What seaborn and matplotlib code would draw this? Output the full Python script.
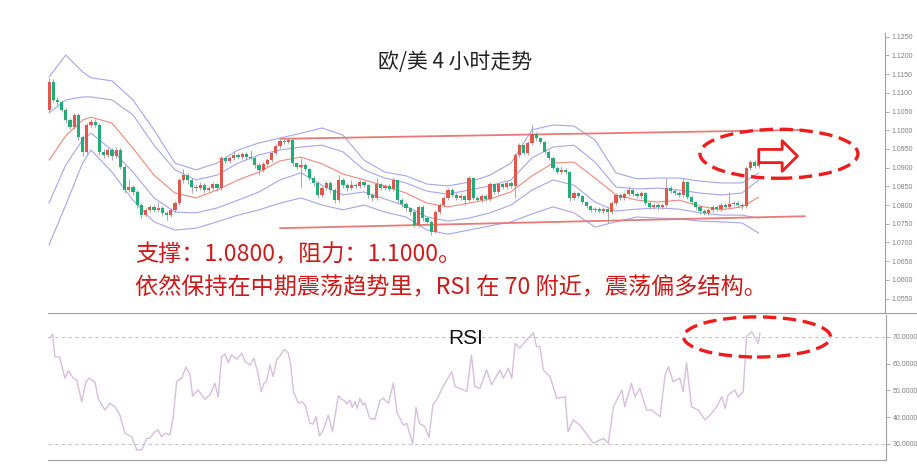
import matplotlib
matplotlib.use("Agg")
import matplotlib.pyplot as plt
from matplotlib.patches import Ellipse
from matplotlib.lines import Line2D
import seaborn as sns

# EUR/USD 4h candles (bar number = position on the time axis)
opens = [1.1054, 1.1129, 1.1081, 1.1075, 1.1054, 1.1027, 1.1009, 1.1040, 1.0982, 1.0942,
         1.1014, 1.1022, 1.1014, 1.0942, 1.0934, 1.0947, 1.0931, 1.0947, 1.0901, 1.0840,
         1.0848, 1.0835, 1.0800, 1.0773, 1.0787, 1.0795, 1.0787, 1.0792, 1.0779, 1.0773,
         1.0787, 1.0805, 1.0867, 1.0880, 1.0867, 1.0848, 1.0845, 1.0853, 1.0840, 1.0845,
         1.0856, 1.0845, 1.0926, 1.0918, 1.0926, 1.0934, 1.0928, 1.0936, 1.0928, 1.0926,
         1.0907, 1.0893, 1.0909, 1.0920, 1.0939, 1.0957, 1.0971, 1.0968, 1.0974, 1.0912,
         1.0901, 1.0907, 1.0896, 1.0872, 1.0859, 1.0827, 1.0845, 1.0859, 1.0840, 1.0813,
         1.0867, 1.0853, 1.0845, 1.0853, 1.0851, 1.0861, 1.0853, 1.0827, 1.0819, 1.0856,
         1.0845, 1.0851, 1.0843, 1.0867, 1.0813, 1.0803, 1.0792, 1.0781, 1.0747, 1.0795,
         1.0765, 1.0755, 1.0728, 1.0781, 1.0800, 1.0819, 1.0840, 1.0827, 1.0819, 1.0824,
         1.0813, 1.0872, 1.0819, 1.0813, 1.0824, 1.0816, 1.0856, 1.0835, 1.0856, 1.0848,
         1.0859, 1.0851, 1.0934, 1.0960, 1.0939, 1.0965, 1.0989, 1.0979, 1.0968, 1.0942,
         1.0926, 1.0899, 1.0888, 1.0893, 1.0888, 1.0819, 1.0832, 1.0824, 1.0808, 1.0797,
         1.0787, 1.0789, 1.0784, 1.0789, 1.0781, 1.0805, 1.0827, 1.0819, 1.0829, 1.0840,
         1.0829, 1.0824, 1.0832, 1.0805, 1.0795, 1.0800, 1.0795, 1.0800, 1.0845, 1.0837,
         1.0832, 1.0827, 1.0861, 1.0821, 1.0808, 1.0795, 1.0784, 1.0779, 1.0787, 1.0795,
         1.0789, 1.0800, 1.0795, 1.0803, 1.0805, 1.0800, 1.0797, 1.0899, 1.0915, 1.0904]
highs = [1.1140, 1.1138, 1.1090, 1.1080, 1.1060, 1.1033, 1.1046, 1.1045, 1.0988, 1.1020,
         1.1030, 1.1030, 1.1018, 1.0950, 1.0953, 1.0952, 1.0955, 1.0952, 1.0906, 1.0870,
         1.0853, 1.0840, 1.0805, 1.0793, 1.0801, 1.0800, 1.0808, 1.0797, 1.0785, 1.0792,
         1.0810, 1.0873, 1.0895, 1.0886, 1.0872, 1.0855, 1.0862, 1.0858, 1.0850, 1.0861,
         1.0860, 1.0932, 1.0932, 1.0932, 1.0945, 1.0940, 1.0942, 1.0941, 1.0948, 1.0930,
         1.0912, 1.0914, 1.0926, 1.0944, 1.0962, 1.0977, 1.0978, 1.0979, 1.0978, 1.0916,
         1.0925, 1.0912, 1.0900, 1.0878, 1.0863, 1.0852, 1.0865, 1.0863, 1.0845, 1.0880,
         1.0872, 1.0858, 1.0866, 1.0858, 1.0866, 1.0865, 1.0857, 1.0832, 1.0872, 1.0860,
         1.0856, 1.0855, 1.0872, 1.0870, 1.0818, 1.0808, 1.0796, 1.0786, 1.0800, 1.0799,
         1.0770, 1.0760, 1.0786, 1.0805, 1.0824, 1.0846, 1.0845, 1.0832, 1.0829, 1.0828,
         1.0877, 1.0876, 1.0824, 1.0829, 1.0830, 1.0861, 1.0860, 1.0861, 1.0860, 1.0864,
         1.0863, 1.0940, 1.0966, 1.0964, 1.0970, 1.1014, 1.0996, 1.0983, 1.0972, 1.0946,
         1.0930, 1.0904, 1.0905, 1.0900, 1.0892, 1.0838, 1.0836, 1.0828, 1.0812, 1.0801,
         1.0795, 1.0794, 1.0795, 1.0793, 1.0810, 1.0832, 1.0831, 1.0834, 1.0850, 1.0844,
         1.0834, 1.0838, 1.0836, 1.0810, 1.0806, 1.0805, 1.0806, 1.0872, 1.0850, 1.0842,
         1.0837, 1.0872, 1.0865, 1.0826, 1.0812, 1.0800, 1.0789, 1.0792, 1.0800, 1.0800,
         1.0806, 1.0806, 1.0835, 1.0811, 1.0810, 1.0806, 1.0904, 1.0921, 1.0920, 1.0918]
lows = [1.1050, 1.1075, 1.1068, 1.1048, 1.1020, 1.1002, 1.1004, 1.0975, 1.0930, 1.0936,
        1.1008, 1.1008, 1.0935, 1.0926, 1.0928, 1.0920, 1.0926, 1.0895, 1.0832, 1.0834,
        1.0828, 1.0792, 1.0766, 1.0768, 1.0780, 1.0781, 1.0782, 1.0770, 1.0760, 1.0768,
        1.0782, 1.0800, 1.0860, 1.0855, 1.0832, 1.0838, 1.0840, 1.0833, 1.0835, 1.0840,
        1.0838, 1.0840, 1.0912, 1.0912, 1.0920, 1.0922, 1.0924, 1.0923, 1.0920, 1.0900,
        1.0880, 1.0888, 1.0904, 1.0915, 1.0934, 1.0952, 1.0962, 1.0963, 1.0905, 1.0895,
        1.0845, 1.0890, 1.0866, 1.0850, 1.0818, 1.0822, 1.0840, 1.0832, 1.0805, 1.0808,
        1.0846, 1.0838, 1.0840, 1.0845, 1.0846, 1.0847, 1.0820, 1.0812, 1.0814, 1.0839,
        1.0840, 1.0837, 1.0838, 1.0806, 1.0796, 1.0785, 1.0774, 1.0740, 1.0742, 1.0758,
        1.0748, 1.0720, 1.0724, 1.0776, 1.0795, 1.0814, 1.0821, 1.0813, 1.0814, 1.0800,
        1.0808, 1.0813, 1.0807, 1.0808, 1.0810, 1.0811, 1.0829, 1.0830, 1.0842, 1.0843,
        1.0845, 1.0819, 1.0928, 1.0933, 1.0934, 1.0960, 1.0972, 1.0962, 1.0936, 1.0920,
        1.0893, 1.0882, 1.0883, 1.0882, 1.0812, 1.0814, 1.0818, 1.0802, 1.0791, 1.0781,
        1.0782, 1.0778, 1.0779, 1.0752, 1.0776, 1.0800, 1.0813, 1.0814, 1.0824, 1.0823,
        1.0818, 1.0819, 1.0799, 1.0789, 1.0790, 1.0786, 1.0790, 1.0795, 1.0831, 1.0826,
        1.0821, 1.0822, 1.0815, 1.0802, 1.0789, 1.0777, 1.0773, 1.0774, 1.0782, 1.0783,
        1.0784, 1.0789, 1.0790, 1.0798, 1.0794, 1.0790, 1.0792, 1.0894, 1.0898, 1.0899]
closes = [1.1129, 1.1081, 1.1075, 1.1054, 1.1027, 1.1009, 1.1040, 1.0982, 1.0942, 1.1014,
          1.1022, 1.1014, 1.0942, 1.0934, 1.0947, 1.0931, 1.0947, 1.0901, 1.0840, 1.0848,
          1.0835, 1.0800, 1.0773, 1.0787, 1.0795, 1.0787, 1.0792, 1.0779, 1.0773, 1.0787,
          1.0805, 1.0867, 1.0880, 1.0867, 1.0848, 1.0845, 1.0853, 1.0840, 1.0845, 1.0856,
          1.0845, 1.0926, 1.0918, 1.0926, 1.0934, 1.0928, 1.0936, 1.0928, 1.0926, 1.0907,
          1.0893, 1.0909, 1.0920, 1.0939, 1.0957, 1.0971, 1.0968, 1.0974, 1.0912, 1.0901,
          1.0907, 1.0896, 1.0872, 1.0859, 1.0827, 1.0845, 1.0859, 1.0840, 1.0813, 1.0867,
          1.0853, 1.0845, 1.0853, 1.0851, 1.0861, 1.0853, 1.0827, 1.0819, 1.0856, 1.0845,
          1.0851, 1.0843, 1.0867, 1.0813, 1.0803, 1.0792, 1.0781, 1.0747, 1.0795, 1.0765,
          1.0755, 1.0728, 1.0781, 1.0800, 1.0819, 1.0840, 1.0827, 1.0819, 1.0824, 1.0813,
          1.0872, 1.0819, 1.0813, 1.0824, 1.0816, 1.0856, 1.0835, 1.0856, 1.0848, 1.0859,
          1.0851, 1.0934, 1.0960, 1.0939, 1.0965, 1.0989, 1.0979, 1.0968, 1.0942, 1.0926,
          1.0899, 1.0888, 1.0893, 1.0888, 1.0819, 1.0832, 1.0824, 1.0808, 1.0797, 1.0787,
          1.0789, 1.0784, 1.0789, 1.0781, 1.0805, 1.0827, 1.0819, 1.0829, 1.0840, 1.0829,
          1.0824, 1.0832, 1.0805, 1.0795, 1.0800, 1.0795, 1.0800, 1.0845, 1.0837, 1.0832,
          1.0827, 1.0861, 1.0821, 1.0808, 1.0795, 1.0784, 1.0779, 1.0787, 1.0795, 1.0789,
          1.0800, 1.0795, 1.0803, 1.0805, 1.0800, 1.0797, 1.0899, 1.0915, 1.0904, 1.0912]

# Bollinger bands at these bars
band_bar = [0, 4, 8, 10, 15, 20, 25, 30, 35, 40, 45, 50, 55, 60, 65, 70, 75, 80,
            85, 90, 95, 100, 105, 110, 115, 120, 125, 130, 135, 140, 145, 150, 155, 160, 165, 169]
ub2 = [1.1142, 1.1201, 1.1156, 1.1140, 1.1132, 1.1081, 1.1001, 1.0912, 1.0894, 1.0912, 1.0947, 1.0966,
       1.0979, 1.0992, 1.1006, 1.0987, 1.0920, 1.0888, 1.0878, 1.0856, 1.0851, 1.0861, 1.0880, 1.0912,
       1.1001, 1.1014, 1.1011, 1.0974, 1.0886, 1.0870, 1.0872, 1.0872, 1.0864, 1.0859, 1.0859, 1.0886]
ub1 = [1.1046, 1.1081, 1.1089, 1.1089, 1.1081, 1.1041, 1.0960, 1.0894, 1.0867, 1.0880, 1.0912, 1.0934,
       1.0947, 1.0955, 1.0960, 1.0942, 1.0894, 1.0872, 1.0859, 1.0837, 1.0829, 1.0840, 1.0851, 1.0867,
       1.0926, 1.0955, 1.0960, 1.0915, 1.0848, 1.0843, 1.0845, 1.0840, 1.0832, 1.0827, 1.0832, 1.0867]
mid = [1.0920, 1.0985, 1.1027, 1.1035, 1.1019, 1.0952, 1.0880, 1.0832, 1.0819, 1.0840, 1.0867, 1.0888,
       1.0918, 1.0928, 1.0910, 1.0883, 1.0867, 1.0851, 1.0832, 1.0805, 1.0795, 1.0805, 1.0816, 1.0835,
       1.0878, 1.0912, 1.0915, 1.0872, 1.0827, 1.0813, 1.0808, 1.0813, 1.0797, 1.0787, 1.0795, 1.0821]
lb1 = [1.0805, 1.0907, 1.0974, 1.0992, 1.0947, 1.0888, 1.0819, 1.0781, 1.0779, 1.0792, 1.0813, 1.0835,
       1.0867, 1.0886, 1.0853, 1.0827, 1.0835, 1.0816, 1.0797, 1.0768, 1.0757, 1.0765, 1.0779, 1.0800,
       1.0840, 1.0867, 1.0853, 1.0808, 1.0784, 1.0789, 1.0792, 1.0789, 1.0779, 1.0773, 1.0773, 1.0765]
lb2 = [1.0693, 1.0800, 1.0912, 1.0947, 1.0888, 1.0813, 1.0755, 1.0733, 1.0738, 1.0755, 1.0773, 1.0787,
       1.0805, 1.0819, 1.0800, 1.0787, 1.0800, 1.0781, 1.0768, 1.0733, 1.0722, 1.0733, 1.0744, 1.0755,
       1.0776, 1.0795, 1.0779, 1.0741, 1.0755, 1.0768, 1.0765, 1.0763, 1.0757, 1.0755, 1.0752, 1.0725]

# channel lines
trend_bar = [55, 180]
resist_line = [1.0977, 1.1001]
support_line = [1.0738, 1.0770]

price_ticks = [1.0550, 1.0600, 1.0650, 1.0700, 1.0750, 1.0800, 1.0850, 1.0900,
               1.0950, 1.1000, 1.1050, 1.1100, 1.1150, 1.1200, 1.1250]

# RSI
rsi_bar = [0.1, 0.9, 1.4, 2.5, 3.8, 4.6, 5.8, 6.6, 7.8, 8.8,
           9.6, 11.0, 11.7, 13.3, 14.5, 15.7, 16.9, 18.1, 19.7, 20.9,
           22.1, 23.3, 24.0, 25.2, 26.0, 26.8, 27.6, 28.8, 29.6, 30.4,
           31.6, 32.6, 33.6, 34.2, 35.5, 37.1, 38.3, 39.5, 40.3, 41.1,
           41.9, 42.7, 43.5, 44.7, 45.9, 46.7, 47.9, 48.8, 49.8, 50.5,
           51.2, 51.8, 52.6, 53.4, 54.2, 55.0, 56.0, 57.0, 57.5, 58.2,
           59.4, 60.2, 61.0, 62.1, 62.9, 63.6, 64.4, 65.3, 66.5, 67.5,
           68.9, 69.7, 70.3, 70.9, 71.7, 72.2, 72.9, 73.4, 74.0, 74.7,
           75.2, 76.4, 77.6, 78.8, 79.6, 80.8, 82.0, 82.9, 84.4, 85.2,
           86.6, 87.4, 88.2, 89.5, 90.5, 91.4, 92.3, 94.0, 95.9, 96.7,
           97.9, 99.5, 100.6, 101.4, 102.6, 104.2, 105.4, 107.4, 108.2, 109.4,
           110.2, 111.0, 112.1, 113.3, 115.3, 116.1, 116.9, 117.7, 119.3, 120.9,
           122.9, 123.6, 124.8, 126.4, 129.6, 132.0, 133.2, 134.4, 136.4, 137.1,
           138.7, 139.5, 140.7, 142.3, 143.5, 145.5, 146.7, 147.5, 148.6, 150.2,
           151.0, 151.8, 153.0, 154.6, 156.2, 157.4, 159.0, 160.2, 161.0, 161.7,
           163.3, 164.1, 165.3, 166.1, 167.3, 168.9, 169.3]
rsi_val = [69.5, 71.1, 62.6, 62.6, 54.6, 57.4, 54.6, 53.9, 45.8, 53.3,
           54.6, 52.9, 47.1, 42.7, 45.2, 43.9, 40.8, 34.0, 32.7, 27.8,
           27.8, 32.1, 32.1, 34.6, 35.2, 32.7, 34.0, 33.4, 40.2, 53.3,
           54.6, 58.7, 55.8, 47.9, 50.2, 46.7, 48.3, 52.7, 47.5, 62.6,
           63.6, 60.4, 63.3, 61.7, 63.9, 60.8, 59.5, 62.0, 56.4, 49.6,
           52.7, 53.3, 59.5, 55.2, 61.4, 62.9, 65.4, 63.9, 60.2, 49.6,
           45.2, 45.8, 44.6, 37.7, 37.5, 40.2, 33.0, 35.2, 40.8, 34.6,
           48.0, 46.7, 46.2, 45.0, 46.4, 43.7, 45.8, 43.3, 47.1, 44.6,
           45.4, 39.6, 39.2, 46.2, 47.1, 45.2, 52.7, 41.5, 37.1, 37.7,
           30.0, 43.7, 37.7, 36.5, 32.4, 44.6, 46.4, 52.0, 57.0, 51.4,
           50.8, 49.6, 63.3, 51.4, 50.8, 57.7, 52.1, 57.7, 54.6, 58.3,
           54.6, 67.6, 65.8, 68.2, 71.6, 66.4, 66.4, 57.7, 55.2, 47.1,
           47.7, 34.6, 39.0, 37.1, 30.3, 32.1, 30.3, 43.9, 50.2, 43.9,
           52.7, 47.7, 50.8, 42.7, 42.7, 40.2, 55.8, 58.9, 53.3, 54.6,
           49.6, 60.4, 43.9, 42.7, 39.0, 40.8, 43.9, 47.7, 43.3, 48.3,
           50.2, 47.5, 49.6, 70.1, 72.0, 67.6, 71.6]
rsi_ticks = [30, 40, 50, 60, 70]
date_ticks = [1.9, 11.7, 24.8, 35.2, 48.3, 58.1, 71.2, 81.7, 94.8, 104.5, 114.0,
              127.9, 140.9, 150.9, 164.0, 174.3, 187.4, 197.4]

title = '欧/美 4 小时走势'
note1 = '支撑：1.0800，阻力：1.1000。'
note2 = '依然保持在中期震荡趋势里，RSI 在 70 附近，震荡偏多结构。'

sns.set_style("white")
plt.rcParams['font.family'] = ['Noto Sans CJK SC', 'DejaVu Sans']

up_red = '#e2574c'
down_green = '#22ad77'
band_blue = '#a6a6ea'
ma_red = '#ec8a80'
mark_red = '#ee1c1c'
axis_grey = '#a0a0a0'

fig = plt.figure(figsize=(9.17, 4.69), dpi=100)
ax = fig.add_axes([0.0523, 0.3326, 0.9128, 0.5970])
ax_rsi = fig.add_axes([0.0523, 0.0192, 0.9139, 0.3092])

# --- candles ---
bars = list(range(len(closes)))
body_lo = [min(o, c) for o, c in zip(opens, closes)]
body_h = [max(abs(c - o), 0.00012) for o, c in zip(opens, closes)]
body_col = [up_red if c >= o else down_green for o, c in zip(opens, closes)]
ax.vlines(bars, lows, highs, color='#9a9a9a', lw=0.6, zorder=3)
ax.bar(bars, body_h, bottom=body_lo, width=0.75, color=body_col, lw=0, zorder=4)

# --- bands + channel ---
for vals in [ub2, ub1, lb1, lb2]:
    sns.lineplot(x=band_bar, y=vals, ax=ax, color=band_blue, lw=0.8, estimator=None, sort=False, zorder=2)
sns.lineplot(x=band_bar, y=mid, ax=ax, color=ma_red, lw=0.8, estimator=None, sort=False, zorder=2)
sns.lineplot(x=trend_bar, y=resist_line, ax=ax, color='#e87a7a', lw=1.3, zorder=2)
sns.lineplot(x=trend_bar, y=support_line, ax=ax, color='#e87a7a', lw=1.3, zorder=2)

ax.add_patch(Ellipse((173.8, 1.0937), 37.6, 0.0131, fill=False, ec=mark_red, lw=2.4,
                     ls=(0, (4, 2)), zorder=6))
ax.annotate('', xy=(178.2, 1.0931), xytext=(169.0, 1.0931),
            arrowprops=dict(arrowstyle='simple,head_length=1.1,head_width=2.2,tail_width=0.95',
                            mutation_scale=10, fc='white', ec=mark_red, lw=2,
                            shrinkA=0, shrinkB=0), zorder=7)

ax.set_xlim(-0.24, 199.05)
ax.set_ylim(1.05112, 1.12599)
ax.set_xticks([])
ax.yaxis.tick_right()
ax.set_yticks(price_ticks)
ax.set_yticklabels(['%.4f' % t for t in price_ticks])
ax.tick_params(axis='y', length=3, width=0.6, color=axis_grey, labelsize=5,
               labelcolor='#808080', pad=2)
for t in ax.get_yticklabels():
    t.set_family('Liberation Sans')
ax.set_xlabel('')
ax.set_ylabel('')
for s in ['left', 'top']:
    ax.spines[s].set_visible(False)
for s in ['right', 'bottom']:
    ax.spines[s].set_color(axis_grey)
    ax.spines[s].set_linewidth(0.8)

# --- RSI ---
sns.lineplot(x=rsi_bar, y=rsi_val, ax=ax_rsi, color='#d6bfdc', lw=1.0, estimator=None, sort=False)
for lvl in [70, 30]:
    ax_rsi.axhline(lvl, color='#c4c4c4', lw=0.8, ls=(0, (3, 3)), zorder=1)
ax_rsi.add_patch(Ellipse((168.6, 70), 35, 15, fill=False, ec=mark_red, lw=2.4,
                         ls=(0, (4, 2)), zorder=6))
ax_rsi.text(0.478, 0.84, 'RSI', transform=ax_rsi.transAxes, fontsize=15,
            family='Liberation Sans', ha='left', va='center', color='#111111')
ax_rsi.set_xlim(-0.24, 199.3)
ax_rsi.set_ylim(24.02, 78.22)
ax_rsi.set_xticks(date_ticks)
ax_rsi.set_xticklabels([])
ax_rsi.tick_params(axis='x', length=2, width=0.6, color=axis_grey)
ax_rsi.yaxis.tick_right()
ax_rsi.set_yticks(rsi_ticks)
ax_rsi.set_yticklabels(['%.4f' % t for t in rsi_ticks])
ax_rsi.tick_params(axis='y', length=3, width=0.6, color=axis_grey, labelsize=5,
                   labelcolor='#808080', pad=2)
for t in ax_rsi.get_yticklabels():
    t.set_family('Liberation Sans')
ax_rsi.set_xlabel('')
ax_rsi.set_ylabel('')
for s in ['left', 'top']:
    ax_rsi.spines[s].set_visible(False)
for s in ['right', 'bottom']:
    ax_rsi.spines[s].set_color(axis_grey)
    ax_rsi.spines[s].set_linewidth(0.8)

fig.add_artist(Line2D([0.965, 1.0], [0.3326, 0.3326], color=axis_grey, lw=0.8))

# --- texts ---
fig.text(0.4962, 0.8678, title, ha='center', va='center', fontsize=15, color='#222222')
fig.text(0.1472, 0.4563, note1, ha='left', va='center', fontsize=16.7, color='#cc1a1a')
fig.text(0.1472, 0.3859, note2, ha='left', va='center', fontsize=16.7, color='#cc1a1a')

fig.savefig('out.png', dpi=100)
